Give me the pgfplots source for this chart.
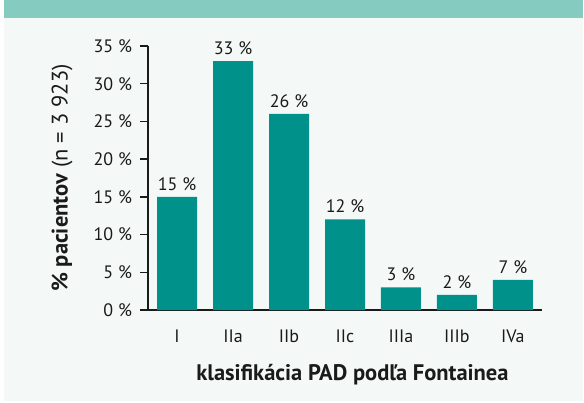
\documentclass[border=0pt]{standalone}
\usepackage{pgfplots}
\pgfplotsset{compat=1.18}
\usepackage{fontspec}
\setmainfont{PT Sans}
\definecolor{barc}{HTML}{00918A}
\definecolor{banner}{HTML}{86CBBF}
\definecolor{bgc}{HTML}{F4F8F7}
\definecolor{txt}{HTML}{1A1A1A}
\begin{document}
\begin{tikzpicture}[x=1pt,y=1pt]
\fill[white] (0,0) rectangle (584,402);
\fill[bgc] (4,1) rectangle (583,402);
\fill[banner] (4,384) rectangle (583,402);
\begin{axis}[
  at={(148pt,92pt)}, anchor=south west,
  scale only axis, width=394pt, height=264pt,
  xmin=-0.52, xmax=6.52, ymin=0, ymax=35,
  axis lines*=left,
  axis line style={line width=1.3pt, color=txt, -},
  ybar, bar width=40pt, bar shift=0pt,
  xtick={0,1,2,3,4,5,6},
  xticklabels={I,IIa,IIb,IIc,IIIa,IIIb,IVa},
  xtick style={draw=none},
  ytick={0,5,...,35},
  ytick style={line width=1.3pt, color=txt},
  tick align=outside, major tick length=8pt,
  /pgf/number format/assume math mode=true,
  yticklabel={\pgfmathprintnumber{\tick}~\%},
  tick label style={font=\fontsize{18}{21}\selectfont, text=txt},
  xticklabel style={yshift=-8pt},
  yticklabel style={xshift=-4.5pt},
  nodes near coords,
  point meta=explicit symbolic,
  every node near coord/.append style={font=\fontsize{18}{21}\selectfont, text=txt, yshift=3pt},
  xlabel={\textbf{klasifikácia PAD podľa Fontainea}},
  xlabel style={at={(axis description cs:0.519,-0.246)}, anchor=center, font=\fontsize{22.5}{26}\selectfont, text=txt},
  ylabel={\textbf{\%~pacientov} (n = 3~923)},
  ylabel style={at={(axis description cs:-0.218,0.5)}, anchor=center, rotate=0, font=\fontsize{22.5}{26}\selectfont, text=txt},
  clip=false,
]
\addplot[fill=barc, draw=none] coordinates {
  (0,15) [15~\%]
  (1,33) [33~\%]
  (2,26) [26~\%]
  (3,12) [12~\%]
  (4,3) [3~\%]
  (5,2) [2~\%]
  (6,4) [7~\%]
};
\end{axis}
\end{tikzpicture}
\end{document}
